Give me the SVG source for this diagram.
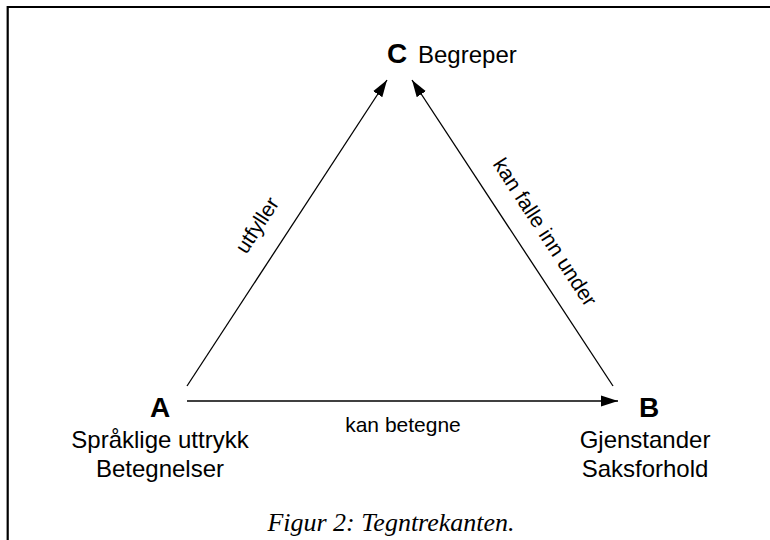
<svg xmlns="http://www.w3.org/2000/svg" width="770" height="540" viewBox="0 0 770 540">
  <style>
    .lbl { font-family: "Liberation Sans", Arial, sans-serif; font-size: 21px; fill: #000; }
    .big { font-family: "Liberation Sans", Arial, sans-serif; font-size: 24px; fill: #000; }
    .key { font-family: "Liberation Sans", Arial, sans-serif; font-size: 28px; font-weight: bold; fill: #000; }
    .cap { font-family: "Liberation Serif", "Times New Roman", serif; font-size: 26px; font-style: italic; fill: #000; }
    .edge { stroke: #000; stroke-width: 1.3; fill: none; marker-end: url(#arr); }
  </style>
  <defs>
    <marker id="arr" markerUnits="userSpaceOnUse" markerWidth="18" markerHeight="12" refX="17" refY="6" orient="auto">
      <path d="M0,0.5 L17,6 L0,11.5 Z" fill="#000"/>
    </marker>
  </defs>
  <rect width="770" height="540" fill="#fff"/>
  <path d="M7.7,540 L7.7,7 L770,7" stroke="#000" stroke-width="2.2" fill="none"/>

  <g id="connectors">
    <line class="edge" x1="187" y1="386" x2="387" y2="80"/>
    <line class="edge" x1="613" y1="386" x2="412" y2="80"/>
    <line class="edge" x1="187" y1="401" x2="618" y2="401"/>
    <text class="lbl" text-anchor="middle" transform="translate(263,229) rotate(-57)">utfyller</text>
    <text class="lbl" text-anchor="middle" transform="translate(539,236) rotate(57)">kan falle inn under</text>
    <text class="lbl" x="403" y="432" text-anchor="middle">kan betegne</text>
  </g>

  <g id="node-C">
    <text class="key" x="387" y="63">C</text>
    <text class="big" x="418" y="63">Begreper</text>
  </g>

  <g id="node-A">
    <text class="key" x="160" y="417" text-anchor="middle">A</text>
    <text class="big" x="160" y="448" text-anchor="middle">Språklige uttrykk</text>
    <text class="big" x="160" y="477" text-anchor="middle">Betegnelser</text>
  </g>

  <g id="node-B">
    <text class="key" x="649" y="417" text-anchor="middle">B</text>
    <text class="big" x="645" y="448" text-anchor="middle">Gjenstander</text>
    <text class="big" x="645" y="477" text-anchor="middle">Saksforhold</text>
  </g>

  <text class="cap" x="391" y="531" text-anchor="middle">Figur 2: Tegntrekanten.</text>
</svg>
